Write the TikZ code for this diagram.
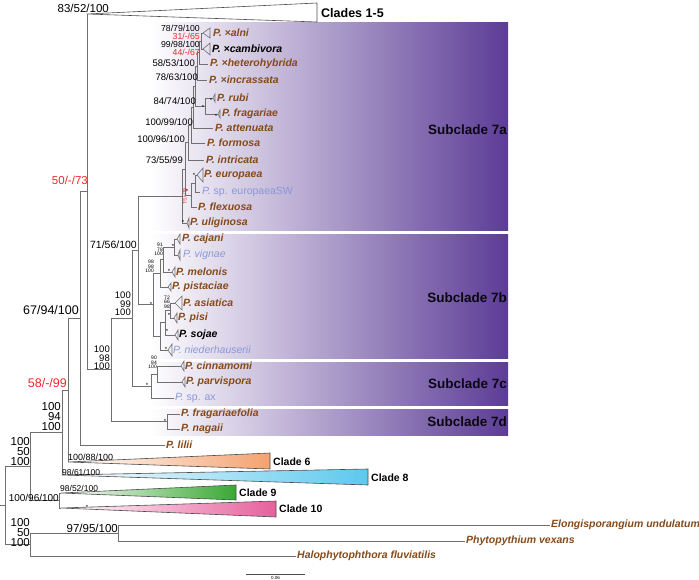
\documentclass[tikz,border=0pt]{standalone}
\usepackage{fontspec}
\setmainfont{Liberation Sans}
\usetikzlibrary{positioning}

\definecolor{branch}{RGB}{112,112,112}
\definecolor{taxbrown}{RGB}{134,74,26}
\definecolor{taxblue}{RGB}{138,152,214}
\definecolor{suppred}{RGB}{234,42,42}
\definecolor{purp}{RGB}{92,60,150}
\definecolor{cladesix}{RGB}{244,162,112}
\definecolor{cladeeight}{RGB}{92,200,238}
\definecolor{cladenine}{RGB}{58,168,52}
\definecolor{cladeten}{RGB}{230,96,156}

\tikzset{
  brl/.style={draw=branch, line width=0.8pt},
  fanl/.style={draw=branch, line width=0.6pt},
  taxon/.style={anchor=west, inner sep=0pt, font=\fontsize{10.5}{10.5}\selectfont\bfseries\itshape, text=taxbrown},
  taxblk/.style={taxon, text=black},
  taxlb/.style={anchor=west, inner sep=0pt, font=\fontsize{10.5}{10.5}\selectfont, text=taxblue},
  supsm/.style={anchor=east, inner sep=0pt, font=\fontsize{9.5}{9.5}\selectfont},
  suptop/.style={anchor=east, inner sep=0pt, font=\fontsize{8.7}{8.7}\selectfont},
  supred/.style={suptop, text=suppred},
  supbig/.style={anchor=east, inner sep=0pt, font=\fontsize{11.5}{11.5}\selectfont},
  supstack/.style={anchor=east, inner sep=0pt, align=right, font=\fontsize{11.5}{10}\selectfont},
  supmid/.style={anchor=east, inner sep=0pt, align=right, font=\fontsize{9.5}{8.5}\selectfont},
  suptiny/.style={anchor=east, inner sep=0pt, align=right, font=\fontsize{5}{4.6}\selectfont},
  supstar/.style={inner sep=0pt, font=\fontsize{6}{6}\selectfont},
  cladelab/.style={anchor=west, inner sep=0pt, font=\fontsize{10.5}{10.5}\selectfont\bfseries},
  subcl/.style={anchor=east, inner sep=0pt, font=\fontsize{13.5}{13.5}\selectfont\bfseries, text=black!88!purp},
  cladebox/.style={left color=white, middle color=purp!30, right color=purp},
}

\newcommand{\tipfan}[3]{\draw[fanl] (#1) -- ++(#2,-#3) -- ++(0,2*#3) -- cycle;}

\begin{document}
\begin{tikzpicture}[x=1pt,y=-1pt]
  \useasboundingbox (0,0) rectangle (699,580);

  % subclade boxes
  \shade[cladebox] (150,23) rectangle (508,231);
  \shade[cladebox] (150,235) rectangle (508,358);
  \shade[cladebox] (150,362) rectangle (508,405);
  \shade[cladebox] (150,409) rectangle (508,435);
  \node[subcl] (S7a) at (507,130) {Subclade 7a};
  \node[subcl] (S7b) at (507,298) {Subclade 7b};
  \node[subcl] (S7c) at (507,384) {Subclade 7c};
  \node[subcl] (S7d) at (507,422) {Subclade 7d};

  % subclade 7a
  \coordinate (Talni) at (203,33);
  \coordinate (Tcamb) at (203,49);
  \coordinate (Thet) at (208,64);
  \coordinate (Tinc) at (207,80);
  \coordinate (Trubi) at (213,98);
  \coordinate (Tfrag) at (218,114);
  \coordinate (Tatt) at (213,128);
  \coordinate (Tfor) at (205,143);
  \coordinate (Tint) at (204,160);
  \coordinate (Teur) at (197,175);
  \coordinate (Tsw) at (200,192);
  \coordinate (Tflex) at (197,207);
  \coordinate (Tuli) at (187,223);
  \coordinate (N1) at (201,41);
  \coordinate (N2) at (199,52.5);
  \coordinate (N3) at (197,66);
  \coordinate (N4) at (205,106);
  \coordinate (N5) at (195,86);
  \coordinate (N6) at (193,107);
  \coordinate (N7) at (191,125);
  \coordinate (N8) at (188,142.5);
  \coordinate (N9a) at (195,183.5);
  \coordinate (N9) at (191,195);
  \coordinate (N10) at (185,169);
  \coordinate (N7a) at (182,196);

  \draw[brl] (N1) |- (Talni);
  \draw[brl] (N1) |- (Tcamb);
  \draw[brl] (N2) |- (N1);
  \draw[brl] (N2) |- (Thet);
  \draw[brl] (N3) |- (N2);
  \draw[brl] (N3) |- (Tinc);
  \draw[brl] (N4) |- (Trubi);
  \draw[brl] (N4) |- (Tfrag);
  \draw[brl] (N5) |- (N3);
  \draw[brl] (N5) |- (N4);
  \draw[brl] (N6) |- (N5);
  \draw[brl] (N6) |- (Tatt);
  \draw[brl] (N7) |- (N6);
  \draw[brl] (N7) |- (Tfor);
  \draw[brl] (N8) |- (N7);
  \draw[brl] (N8) |- (Tint);
  \draw[brl] (N9a) |- (Teur);
  \draw[brl] (N9a) |- (Tsw);
  \draw[brl] (N9) |- (N9a);
  \draw[brl] (N9) |- (Tflex);
  \draw[brl] (N10) |- (N8);
  \draw[brl] (N10) |- (N9);
  \draw[brl] (N7a) |- (N10);
  \draw[brl] (N7a) |- (Tuli);
  \tipfan{Talni}{7}{5}
  \tipfan{Tcamb}{7}{6}
  \tipfan{Trubi}{2}{4}
  \tipfan{Tfrag}{2}{4}
  \tipfan{Teur}{6}{7}
  \tipfan{Tuli}{2}{5}

  \node[taxon, right=10pt of Talni] (Lalni) {P. ×alni};
  \node[taxblk, right=9pt of Tcamb] (Lcamb) {P. ×cambivora};
  \node[taxon, right=2pt of Thet] (Lhet) {P. ×heterohybrida};
  \node[taxon, right=2pt of Tinc] (Linc) {P. ×incrassata};
  \node[taxon, right=4pt of Trubi] (Lrubi) {P. rubi};
  \node[taxon, right=4pt of Tfrag] (Lfrag) {P. fragariae};
  \node[taxon, right=2pt of Tatt] (Latt) {P. attenuata};
  \node[taxon, right=2pt of Tfor] (Lfor) {P. formosa};
  \node[taxon, right=2pt of Tint] (Lint) {P. intricata};
  \node[taxon, right=7pt of Teur] (Leur) {P. europaea};
  \node[taxlb, right=2pt of Tsw] (Lsw) {\textit{P.} sp. europaeaSW};
  \node[taxon, right=1pt of Tflex] (Lflex) {P. flexuosa};
  \node[taxon, right=3pt of Tuli] (Luli) {P. uliginosa};

  \node[suptop] (B1) at (200,28.5) {78/79/100};
  \node[supred] (B2) at (200,36.5) {31/-/65};
  \node[suptop] (B3) at (200,44.5) {99/98/100};
  \node[supred] (B4) at (200,52.5) {44/-/67};
  \node[supsm] (B5) at (195,63) {58/53/100};
  \node[supsm] (B6) at (198,77) {78/63/100};
  \node[supsm] (B7) at (196,101) {84/74/100};
  \node[supsm] (B8) at (193,122) {100/99/100};
  \node[supsm] (B9) at (185,139) {100/96/100};
  \node[supsm] (B10) at (183,160) {73/55/99};
  \node[suptiny, rotate=-90, anchor=center, text=suppred] (B11) at (185,196) {61/-/51};

  % subclade 7b
  \coordinate (Tcaj) at (177,239);
  \coordinate (Tvig) at (178,255);
  \coordinate (Tmel) at (172,272);
  \coordinate (Tpis) at (168,287);
  \coordinate (Tasi) at (175,303);
  \coordinate (Tpisi) at (174,318);
  \coordinate (Tsoj) at (175,335);
  \coordinate (Tnie) at (168,350);
  \coordinate (Ncv) at (174,247);
  \coordinate (Nm) at (163,259.5);
  \coordinate (Np) at (160,273);
  \coordinate (Nap) at (170,310.5);
  \coordinate (Nsj) at (165,322.75);
  \coordinate (Nnd) at (160,336.4);
  \coordinate (N7b) at (153,304.7);

  \draw[brl] (Ncv) |- (Tcaj);
  \draw[brl] (Ncv) |- (Tvig);
  \draw[brl] (Nm) |- (Ncv);
  \draw[brl] (Nm) |- (Tmel);
  \draw[brl] (Np) |- (Nm);
  \draw[brl] (Np) |- (Tpis);
  \draw[brl] (Nap) |- (Tasi);
  \draw[brl] (Nap) |- (Tpisi);
  \draw[brl] (Nsj) |- (Nap);
  \draw[brl] (Nsj) |- (Tsoj);
  \draw[brl] (Nnd) |- (Nsj);
  \draw[brl] (Nnd) |- (Tnie);
  \draw[brl] (N7b) |- (Np);
  \draw[brl] (N7b) |- (Nnd);
  \tipfan{Tcaj}{3}{5}
  \tipfan{Tvig}{2}{5}
  \tipfan{Tmel}{3}{5}
  \tipfan{Tpis}{3}{4}
  \tipfan{Tasi}{7}{7}
  \tipfan{Tpisi}{3}{5}
  \tipfan{Tsoj}{3}{5}
  \tipfan{Tnie}{4}{6}

  \node[taxon, right=5pt of Tcaj] (Lcaj) {P. cajani};
  \node[taxlb, right=5pt of Tvig] (Lvig) {\textit{P. vignae}};
  \node[taxon, right=4pt of Tmel] (Lmel) {P. melonis};
  \node[taxon, right=4pt of Tpis] (Lpis) {P. pistaciae};
  \node[taxon, right=8pt of Tasi] (Lasi) {P. asiatica};
  \node[taxon, right=4pt of Tpisi] (Lpisi) {P. pisi};
  \node[taxblk, right=4pt of Tsoj] (Lsoj) {P. sojae};
  \node[taxlb, right=5pt of Tnie] (Lnie) {\textit{P. niederhauserii}};

  \node[suptiny] (B12) at (163,249.5) {91\\78\\100};
  \node[suptiny] (B13) at (154,266.5) {98\\98\\100};
  \node[suptiny] (B14) at (170,302) {72\\66\\98};

  % subclade 7c and 7d
  \coordinate (Tcin) at (181,366);
  \coordinate (Tpar) at (182,382);
  \coordinate (Tax) at (174,398);
  \coordinate (Ncp) at (157,374);
  \coordinate (N7c) at (151,386);
  \coordinate (Tfol) at (180,414);
  \coordinate (Tnag) at (180,429);
  \coordinate (N7d) at (167,421.5);

  \draw[brl] (Ncp) |- (Tcin);
  \draw[brl] (Ncp) |- (Tpar);
  \draw[brl] (N7c) |- (Ncp);
  \draw[brl] (N7c) |- (Tax);
  \draw[brl] (N7d) |- (Tfol);
  \draw[brl] (N7d) |- (Tnag);
  \tipfan{Tcin}{3}{5}
  \tipfan{Tpar}{3}{5}

  \node[taxon, right=4pt of Tcin] (Lcin) {P. cinnamomi};
  \node[taxon, right=4pt of Tpar] (Lpar) {P. parvispora};
  \node[taxlb, right=1pt of Tax] (Lax) {\textit{P.} sp. ax};
  \node[taxon, right=1pt of Tfol] (Lfol) {P. fragariaefolia};
  \node[taxon, right=1pt of Tnag] (Lnag) {P. nagaii};

  \node[suptiny] (B15) at (157,362.5) {90\\84\\100};

  % clade 7 backbone
  \coordinate (N7ab) at (138,250.35);
  \coordinate (N7abc) at (132,318.2);
  \coordinate (NC7) at (111,369.85);
  \draw[brl] (N7ab) |- (N7a);
  \draw[brl] (N7ab) |- (N7b);
  \draw[brl] (N7abc) |- (N7ab);
  \draw[brl] (N7abc) |- (N7c);
  \draw[brl] (NC7) |- (N7abc);
  \draw[brl] (NC7) |- (N7d);

  \node[supsm, font=\fontsize{10.5}{10.5}\selectfont] (B16) at (137,245) {71/56/100};
  \node[supmid] (B17) at (131,304) {100\\99\\100};
  \node[supmid] (B18) at (110,358) {100\\98\\100};

  % deeper nodes and collapsed clades
  \coordinate (Tc15) at (87,14);
  \coordinate (N87) at (87,191.9);
  \coordinate (Tlil) at (165,445);
  \coordinate (N80) at (80,318.5);
  \coordinate (Tc6) at (68,462);
  \coordinate (N68) at (68,390.2);
  \coordinate (Tc8) at (62,475);
  \coordinate (N62) at (62,432.6);
  \coordinate (Tc9) at (61,493);
  \coordinate (Tc10) at (61,508);
  \coordinate (N59) at (59,500.5);
  \coordinate (N30) at (30,466.5);
  \coordinate (Telo) at (550,525);
  \coordinate (Tvex) at (465,541);
  \coordinate (Npp) at (118,533);
  \coordinate (Thalo) at (296,556);
  \coordinate (Nout) at (30,544.5);
  \coordinate (Root) at (5,505.5);
  \coordinate (R0) at (0,505.5);

  \shade[left color=white, middle color=cladesix!25, right color=cladesix] (Tc6) -- ++(202,-9) -- ++(0,16) -- cycle;
  \shade[left color=white, middle color=cladeeight!25, right color=cladeeight] (Tc8) -- ++(306,-6) -- ++(0,16) -- cycle;
  \shade[left color=white, middle color=cladenine!25, right color=cladenine] (Tc9) -- ++(175,-8) -- ++(0,15) -- cycle;
  \shade[left color=white, middle color=cladeten!25, right color=cladeten] (Tc10) -- ++(215,-7) -- ++(0,16) -- cycle;
  \draw[fanl, draw=black!70] (Tc15) -- ++(230,-11) -- ++(0,19) -- cycle;
  \draw[fanl, draw=black!70] (Tc6) -- ++(202,-9) -- ++(0,16) -- cycle;
  \draw[fanl, draw=black!70] (Tc8) -- ++(306,-6) -- ++(0,16) -- cycle;
  \draw[fanl, draw=black!70] (Tc9) -- ++(175,-8) -- ++(0,15) -- cycle;
  \draw[fanl, draw=black!70] (Tc10) -- ++(215,-7) -- ++(0,16) -- cycle;

  \draw[brl] (R0) -- (Root);
  \draw[brl] (Root) |- (N30);
  \draw[brl] (Root) |- (Nout);
  \draw[brl] (N30) |- (N62);
  \draw[brl] (N30) |- (N59);
  \draw[brl] (N62) |- (N68);
  \draw[brl] (N62) |- (Tc8);
  \draw[brl] (N68) |- (N80);
  \draw[brl] (N68) |- (Tc6);
  \draw[brl] (N80) |- (N87);
  \draw[brl] (N80) |- (Tlil);
  \draw[brl] (N87) |- (Tc15);
  \draw[brl] (N87) |- (NC7);
  \draw[brl] (N59) |- (Tc9);
  \draw[brl] (N59) |- (Tc10);
  \draw[brl] (Nout) |- (Npp);
  \draw[brl] (Nout) |- (Thalo);
  \draw[brl] (Npp) |- (Telo);
  \draw[brl] (Npp) |- (Tvex);

  \node[cladelab, font=\fontsize{12.5}{12.5}\selectfont\bfseries] (C15) at (321,13) {Clades 1-5};
  \node[cladelab] (C6) at (273,462) {Clade 6};
  \node[cladelab] (C8) at (371,478) {Clade 8};
  \node[cladelab] (C9) at (239,493) {Clade 9};
  \node[cladelab] (C10) at (279,509) {Clade 10};
  \node[taxon, right=1pt of Tlil] (Llil) {P. lilii};
  \node[taxon, right=1pt of Telo] (Lelo) {Elongisporangium undulatum};
  \node[taxon, right=1pt of Tvex] (Lvex) {Phytopythium vexans};
  \node[taxon, right=1pt of Thalo] (Lhalo) {Halophytophthora fluviatilis};

  \node[supbig] (B19) at (109,8) {83/52/100};
  \node[supbig, text=suppred] (B20) at (88,180) {50/-/73};
  \node[supbig, font=\fontsize{12.5}{12.5}\selectfont] (B21) at (79,310) {67/94/100};
  \node[supbig, text=suppred, font=\fontsize{12.5}{12.5}\selectfont] (B22) at (67,383) {58/-/99};
  \node[supstack] (B23) at (61,417) {100\\94\\100};
  \node[supstack] (B24) at (30,452) {100\\50\\100};
  \node[supstack] (B25) at (30,533) {100\\50\\100};
  \node[supbig] (B26) at (118,528) {97/95/100};
  \node[supsm, font=\fontsize{9}{9}\selectfont, anchor=west] (B27) at (68,457.5) {100/88/100};
  \node[supsm, font=\fontsize{8.5}{8.5}\selectfont, anchor=west] (B28) at (62,472.5) {98/61/100};
  \node[supsm, font=\fontsize{8.5}{8.5}\selectfont, anchor=west] (B29) at (60,488.5) {98/52/100};
  \node[supsm, font=\fontsize{10}{10}\selectfont] (B30) at (59,498) {100/96/100};

  % asterisks
  \node[supstar] (A1) at (87,507) {*};
  \node[supstar] (A2) at (147,385) {*};
  \node[supstar] (A3) at (165,421) {*};
  \node[supstar] (A4) at (151,304) {*};
  \node[supstar] (A5) at (187,191) {*};
  \node[supstar] (A6) at (194,175) {*};
  \node[supstar] (A7) at (203,107) {*};
  \node[supstar] (A8) at (211,100) {*};
  \node[supstar] (A9) at (216,116) {*};
  \node[supstar] (A10) at (173,246) {*};
  \node[supstar] (A11) at (169,271) {*};
  \node[supstar] (A12) at (169,315) {*};
  \node[supstar] (A13) at (167,331) {*};
  \node[supstar] (A14) at (166,349) {*};
  \node[supstar] (A15) at (183,222) {*};

  % scale bar
  \coordinate (SB1) at (246,574);
  \coordinate (SB2) at (305,574);
  \draw[draw=black!70, line width=0.5pt] (SB1) -- (SB2);
  \node[inner sep=0pt, font=\fontsize{4.5}{4.5}\selectfont] (SBL) at (275.5,577.5) {0.06};
\end{tikzpicture}
\end{document}
